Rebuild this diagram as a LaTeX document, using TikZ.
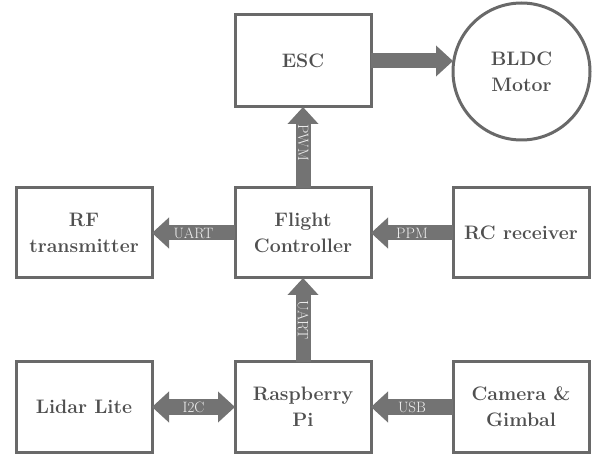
\documentclass[tikz,border=0pt]{standalone}
\usetikzlibrary{arrows.meta}
\definecolor{boxgray}{RGB}{105,105,105}
\definecolor{arrowgray}{RGB}{115,115,115}
\definecolor{textgray}{RGB}{80,80,80}
\definecolor{labelwhite}{RGB}{240,240,240}
\tikzset{
  blk/.style={draw=boxgray, line width=3pt, rectangle, minimum width=136pt,
    minimum height=90pt, inner sep=0pt, outer sep=0pt, align=center,
    text=textgray, font=\fontsize{19.5}{26}\selectfont\bfseries},
  motorblk/.style={blk, circle, minimum size=137pt},
  fat/.style={draw=arrowgray, line width=15pt,
    -{Triangle[length=17pt,width=30pt]}},
  fatboth/.style={draw=arrowgray, line width=15pt,
    {Triangle[length=17pt,width=30pt]}-{Triangle[length=17pt,width=30pt]}},
  lbl/.style={text=labelwhite, font=\fontsize{15}{15}\selectfont, inner sep=0pt},
  vlbl/.style={lbl, rotate=-90}
}
\begin{document}
\begin{tikzpicture}[x=1pt,y=-1pt]
\useasboundingbox (0,0) rectangle (592,454);
\node[blk, minimum height=92pt] (esc) at (303,61) {ESC};
\node[motorblk] (motor) at (521.5,71.5) {BLDC\\Motor};
\node[blk] (rf) at (84,233) {RF\\transmitter};
\node[blk] (fc) at (303,233) {Flight\\Controller};
\node[blk] (rc) at (521,233) {RC receiver};
\node[blk] (lidar) at (84,407) {Lidar Lite};
\node[blk] (rpi) at (303,407) {Raspberry\\Pi};
\node[blk] (cam) at (521,407) {Camera \&\\Gimbal};

\draw[fat] (esc.east) -- (esc.east -| motor.west);
\draw[fat] (fc.north) -- node[vlbl, pos=0.56] (lpwm) {PWM} (esc.south);
\draw[fat] (fc.west) -- node[lbl] (luart1) {UART} (rf.east);
\draw[fat] (rc.west) -- node[lbl] (lppm) {PPM} (fc.east);
\draw[fat] (rpi.north) -- node[vlbl] (luart2) {UART} (fc.south);
\draw[fatboth] (lidar.east) -- node[lbl] (li2c) {I2C} (rpi.west);
\draw[fat] (cam.west) -- node[lbl] (lusb) {USB} (rpi.east);
\end{tikzpicture}
\end{document}
